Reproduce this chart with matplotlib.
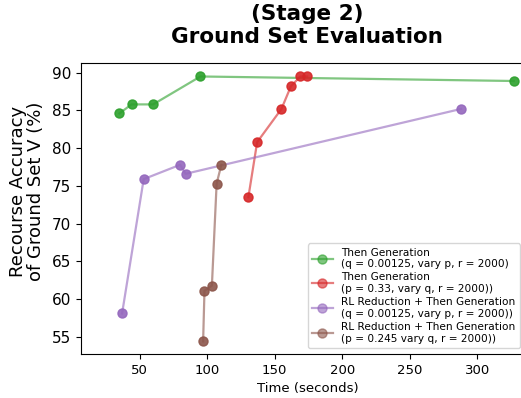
import matplotlib
matplotlib.use('Agg')
import matplotlib.pyplot as plt

# green: Then Generation, vary p
green_t = [35, 44, 60, 95, 327]
green_acc = [84.6, 85.8, 85.8, 89.5, 88.9]

# red: Then Generation, vary q
red_t = [130.5, 137, 155, 162, 169, 174]
red_acc = [73.5, 80.8, 85.2, 88.2, 89.5, 89.5]

# purple: RL Reduction + Then Generation, vary p
purple_t = [37, 53, 80, 84, 288]
purple_acc = [58.1, 75.9, 77.8, 76.6, 85.2]

# brown: RL Reduction + Then Generation, vary q
brown_t = [97, 98, 103.5, 107, 110.5]
brown_acc = [54.4, 61.1, 61.8, 75.3, 77.8]

labels = ['Then Generation\n(q = 0.00125, vary p, r = 2000)',
          'Then Generation\n(p = 0.33, vary q, r = 2000))',
          'RL Reduction + Then Generation\n(q = 0.00125, vary p, r = 2000))',
          'RL Reduction + Then Generation\n(p = 0.245 vary q, r = 2000))']

fig = plt.figure(figsize=(5.21, 3.98), dpi=100)
ax = fig.add_axes([0.155, 0.11, 0.87, 0.732])

series = [(green_t, green_acc, '#2ca02c'),
          (red_t, red_acc, '#d62728'),
          (purple_t, purple_acc, '#9467bd'),
          (brown_t, brown_acc, '#8c564b')]
for (t, acc, c), lab in zip(series, labels):
    ax.plot(t, acc, '-', color=c, alpha=0.6, lw=1.6)
    ax.plot(t, acc, 'o', color=c, alpha=0.9, ms=6.5)
    # legend proxy
    ax.plot([], [], '-o', color=c, alpha=0.6, lw=1.6, ms=6.5, label=lab)

ax.set_xlim(6.4, 342)
ax.set_ylim(52.7, 91.3)
ax.set_xticks([50, 100, 150, 200, 250, 300])
ax.set_yticks([55, 60, 65, 70, 75, 80, 85, 90])
ax.tick_params(axis='x', labelsize=9.5)
ax.tick_params(axis='y', labelsize=11)
ax.set_xlabel('Time (seconds)', fontsize=9.5)
ax.set_ylabel('Recourse Accuracy\nof Ground Set V (%)', fontsize=13, linespacing=1.05)
ax.yaxis.set_label_coords(-0.078, 0.56)
ax.set_title('(Stage 2)\nGround Set Evaluation', fontsize=15.5, fontweight='bold', pad=14)
ax.legend(loc='lower right', bbox_to_anchor=(1.008, 0.113),
          bbox_transform=fig.transFigure, fontsize=7.6,
          handlelength=2, labelspacing=0.3, borderpad=0.4)

fig.savefig('out.png', dpi=100)
